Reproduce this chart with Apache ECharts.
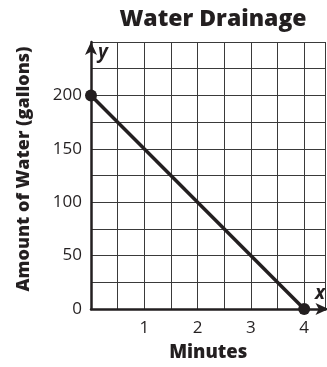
<!DOCTYPE html>
<html>
<head>
<meta charset="utf-8">
<script src="https://cdn.jsdelivr.net/npm/echarts@6/dist/echarts.min.js"></script>
<style>
  html, body { margin: 0; padding: 0; background: #fff; }
  #chart { width: 327px; height: 367px; }
</style>
</head>
<body>
<div id="chart"></div>
<script>
// Minutes elapsed and gallons remaining in the tank
const minutes = [0, 4];
const gallons = [200, 0];
const xTickLabels = ['1', '2', '3', '4'];
const yTickLabels = ['0', '50', '100', '150', '200'];

const FONT = '"Open Sans", "Noto Sans", sans-serif';
const chart = echarts.init(document.getElementById('chart'), null, { renderer: 'canvas' });

const points = minutes.map((m, i) => [m, gallons[i]]);

chart.setOption({
  animation: false,
  title: {
    text: 'Water Drainage',
    left: 208,
    top: 3,
    textAlign: 'center',
    textStyle: { fontFamily: FONT, fontWeight: 800, fontSize: 23, color: '#231f20' }
  },
  grid: { left: 91, right: 1.5, top: 42, bottom: 58 },
  xAxis: {
    type: 'value',
    min: 0,
    max: 4.4,
    interval: 0.5,
    name: 'Minutes',
    nameLocation: 'middle',
    nameGap: 34,
    nameTextStyle: { fontFamily: FONT, fontWeight: 800, fontSize: 18.5, color: '#231f20' },
    axisLine: {
      show: true,
      onZero: true,
      symbol: ['none', 'arrow'],
      symbolSize: [9, 13],
      symbolOffset: [0, 3],
      lineStyle: { color: '#231f20', width: 2.5 }
    },
    axisTick: { show: false },
    axisLabel: {
      margin: 11,
      fontFamily: FONT,
      fontSize: 17,
      color: '#231f20',
      showMaxLabel: false,
      formatter: v => (Number.isInteger(v) && xTickLabels.includes(String(v))) ? String(v) : ''
    },
    splitLine: { show: true, lineStyle: { color: '#3a3a3a', width: 1 } }
  },
  yAxis: {
    type: 'value',
    min: 0,
    max: 250,
    interval: 25,
    axisLine: {
      show: true,
      symbol: ['none', 'arrow'],
      symbolSize: [9, 13],
      symbolOffset: [0, 0],
      lineStyle: { color: '#231f20', width: 2.5 }
    },
    axisTick: { show: false },
    axisLabel: {
      margin: 9,
      fontFamily: FONT,
      fontSize: 17,
      color: '#231f20',
      formatter: v => yTickLabels.includes(String(v)) ? String(v) : ''
    },
    splitLine: { show: true, lineStyle: { color: '#3a3a3a', width: 1 } }
  },
  graphic: [
    {
      type: 'text',
      x: 24,
      y: 169,
      rotation: Math.PI / 2,
      style: {
        text: 'Amount of Water (gallons)',
        fontFamily: FONT,
        fontWeight: 800,
        fontSize: 18,
        fill: '#231f20',
        textAlign: 'center',
        textVerticalAlign: 'middle'
      }
    },
    {
      type: 'text',
      x: 103,
      y: 53,
      style: {
        text: 'y',
        fontFamily: FONT,
        fontWeight: 'bold',
        fontStyle: 'italic',
        fontSize: 19,
        fill: '#231f20',
        textAlign: 'center',
        textVerticalAlign: 'middle'
      }
    },
    {
      type: 'text',
      x: 320,
      y: 294,
      style: {
        text: 'x',
        fontFamily: FONT,
        fontWeight: 'bold',
        fontStyle: 'italic',
        fontSize: 19,
        fill: '#231f20',
        textAlign: 'center',
        textVerticalAlign: 'middle'
      }
    }
  ],
  series: [{
    type: 'line',
    data: points,
    symbol: 'circle',
    symbolSize: 12,
    clip: false,
    lineStyle: { color: '#231f20', width: 3.5 },
    itemStyle: { color: '#231f20' },
    z: 5
  }]
});
</script>
</body>
</html>
